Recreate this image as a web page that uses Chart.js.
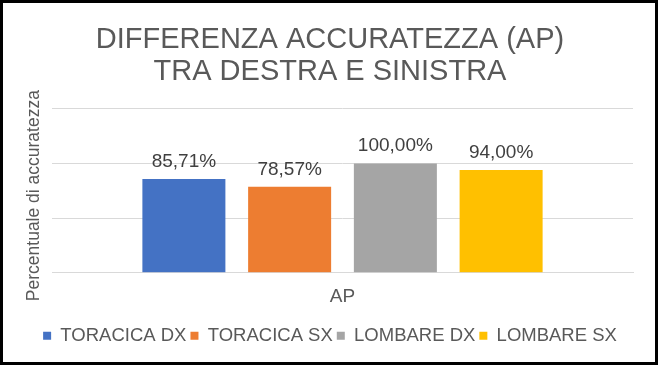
<!DOCTYPE html>
<html><head><meta charset="utf-8">
<script src="https://cdn.jsdelivr.net/npm/chart.js@4/dist/chart.umd.min.js"></script>
<style>
html,body{margin:0;padding:0;background:#fff;}
#wrap{width:658px;height:365px;box-sizing:border-box;border:3px solid #000;background:#fff;}
#c{display:block;}
</style></head><body>
<div id="wrap"><canvas id="c" width="652" height="359"></canvas></div>
<script>
const categories = ['AP'];
const seriesNames = ['TORACICA DX', 'TORACICA SX', 'LOMBARE DX', 'LOMBARE SX'];
const toracicaDx = [85.71];
const toracicaSx = [78.57];
const lombareDx = [100.00];
const lombareSx = [94.00];
const colors = ['#4472C4', '#ED7D31', '#A5A5A5', '#FFC000'];
const titleLines = ['DIFFERENZA ACCURATEZZA (AP)', 'TRA DESTRA E SINISTRA'];
const yTitle = 'Percentuale di accuratezza  ';

const FONT = "'Liberation Sans', Arial, sans-serif";

const labelPlugin = {
  id: 'barLabels',
  afterDatasetsDraw(chart) {
    const ctx = chart.ctx;
    ctx.save();
    ctx.font = '19px ' + FONT;
    ctx.fillStyle = '#404040';
    ctx.textAlign = 'center';
    ctx.textBaseline = 'alphabetic';
    chart.data.datasets.forEach((ds, i) => {
      const meta = chart.getDatasetMeta(i);
      meta.data.forEach((bar, j) => {
        const v = ds.data[j];
        ctx.fillText(v.toFixed(2).replace('.', ',') + '%', bar.x, bar.y - 12);
      });
    });
    ctx.restore();
  }
};

const allSeries = [toracicaDx, toracicaSx, lombareDx, lombareSx];
new Chart(document.getElementById('c'), {
  type: 'bar',
  data: {
    labels: categories,
    datasets: allSeries.map((d, i) => ({
      label: seriesNames[i], data: d, backgroundColor: colors[i],
      categoryPercentage: 0.728, barPercentage: 0.785
    }))
  },
  options: {
    responsive: false,
    animation: false,
    layout: { padding: { left: 2, right: 0, top: 14, bottom: 7 } },
    plugins: {
      title: {
        display: true, text: titleLines, color: '#595959',
        font: { family: FONT, size: 29, weight: 'normal', lineHeight: 1.1 },
        padding: { top: 7, bottom: 21 }
      },
      legend: {
        position: 'bottom',
        labels: { color: '#595959', font: { family: FONT, size: 18.5 }, boxWidth: 8, boxHeight: 8, padding: 4 }
      },
      tooltip: { enabled: false }
    },
    scales: {
      x: {
        grid: { display: false },
        border: { display: true, color: '#D9D9D9', width: 1 },
        ticks: { color: '#595959', font: { family: FONT, size: 19 }, padding: 5 },
        afterFit(scale) { scale.height += 9; }
      },
      y: {
        min: 0, max: 150,
        ticks: { display: false, stepSize: 50 },
        grid: { color: '#D9D9D9', drawTicks: false },
        border: { display: false },
        title: { display: true, text: yTitle, color: '#595959', font: { family: FONT, size: 17.5 }, padding: { top: 19, bottom: 0 } },
        afterFit(scale) { scale.width = 47; }
      },
      yR: {
        position: 'right',
        display: true,
        min: 0, max: 150,
        ticks: { display: false },
        grid: { display: false, drawTicks: false },
        border: { display: false },
        afterFit(scale) { scale.width = 22; }
      }
    }
  },
  plugins: [labelPlugin]
});
</script>
</body></html>
